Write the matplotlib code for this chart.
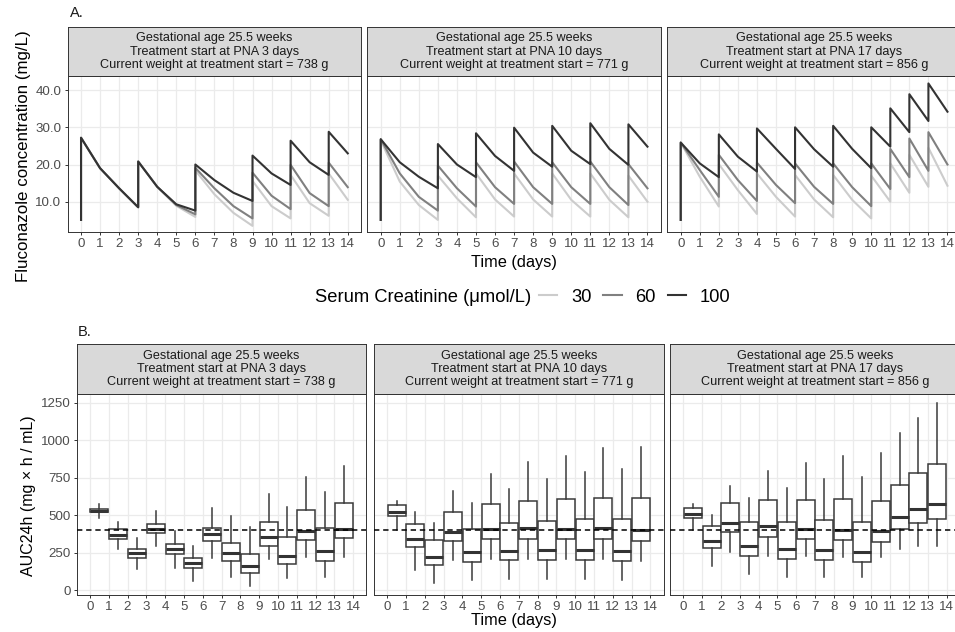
import matplotlib.pyplot as plt
from matplotlib.lines import Line2D

plt.rcParams['font.family'] = ['Liberation Sans', 'DejaVu Sans']

W, H = 955, 632

strip_titles = [
    "Gestational age 25.5 weeks\nTreatment start at PNA 3 days\nCurrent weight at treatment start = 738 g",
    "Gestational age 25.5 weeks\nTreatment start at PNA 10 days\nCurrent weight at treatment start = 771 g",
    "Gestational age 25.5 weeks\nTreatment start at PNA 17 days\nCurrent weight at treatment start = 856 g",
]
creat_levels = ["30", "60", "100"]
line_colors = ["#CCCCCC", "#808080", "#333333"]
days = list(range(15))

# A. fluconazole concentration (mg/L) (doses give two points at one time)
a1_t = [0, 0, 1, 2, 3, 3, 4, 5, 6, 6, 7, 8, 9, 9, 10, 11, 11, 12, 13, 13, 14]
a1_sc30 = [5.1, 27.2, 19.0, 13.6, 8.5, 20.8, 14.0, 8.9, 5.9, 18.4, 12.0, 7.0, 3.5, 15.6, 8.8, 5.5, 17.2, 9.6, 6.2, 17.6, 10.5]
a1_sc60 = [5.1, 27.2, 19.0, 13.6, 8.5, 20.8, 14.0, 9.1, 6.6, 19.1, 13.6, 8.8, 5.5, 17.8, 11.6, 8.0, 19.9, 12.3, 8.8, 20.5, 13.9]
a1_sc100 = [5.1, 27.2, 19.0, 13.6, 8.5, 20.8, 14.0, 9.3, 7.6, 20.0, 15.8, 12.4, 10.2, 22.4, 17.6, 14.5, 26.4, 20.6, 17.2, 28.8, 23.0]

a2_t = [0, 0, 1, 2, 3, 3, 4, 5, 5, 6, 7, 7, 8, 9, 9, 10, 11, 11, 12, 13, 13, 14]
a2_sc30 = [5.1, 26.5, 15.4, 9.1, 5.1, 17.0, 10.9, 5.8, 17.6, 10.6, 6.0, 17.6, 10.6, 6.0, 17.6, 10.5, 6.0, 17.6, 10.5, 5.8, 17.0, 10.0]
a2_sc60 = [5.1, 26.8, 17.6, 11.3, 7.6, 19.7, 13.6, 8.7, 20.6, 13.9, 9.4, 20.8, 13.9, 9.4, 20.6, 13.9, 9.4, 20.8, 13.9, 9.1, 20.1, 13.6]
a2_sc100 = [5.1, 26.8, 20.6, 16.7, 13.6, 25.5, 20.0, 16.6, 28.4, 22.3, 18.3, 29.9, 23.2, 19.4, 30.4, 23.7, 20.1, 31.1, 24.2, 19.9, 30.8, 24.8]

a3_t = [0, 0, 1, 2, 2, 3, 4, 4, 5, 6, 6, 7, 8, 8, 9, 10, 10, 11, 11, 12, 12, 13, 13, 14]
a3_sc30 = [5.1, 25.9, 16.7, 8.7, 20.1, 13.1, 6.7, 17.6, 11.3, 6.0, 17.2, 10.6, 5.8, 17.2, 10.5, 5.5, 17.0, 10.0, 20.3, 12.4, 22.6, 14.0, 24.5, 14.3]
a3_sc60 = [5.1, 25.9, 18.5, 11.3, 22.6, 15.8, 10.2, 20.5, 14.5, 9.6, 20.3, 14.0, 9.4, 20.3, 13.9, 8.8, 20.3, 13.4, 24.2, 16.6, 27.0, 18.3, 28.7, 20.0]
a3_sc100 = [5.1, 25.9, 20.3, 16.6, 28.1, 22.1, 18.1, 29.7, 24.2, 18.8, 30.0, 24.1, 19.4, 30.4, 24.2, 19.0, 30.0, 24.8, 35.1, 28.7, 38.9, 31.7, 41.8, 34.2]

# B. AUC24h per day interval (box stats)
b1_lo = [479, 272, 138, 294, 145, 60, 216, 85, 29, 205, 78, 221, 85, 223]
b1_q1 = [519, 339, 212, 379, 238, 145, 330, 194, 111, 296, 174, 334, 196, 345]
b1_med = [530, 368, 245, 408, 272, 178, 372, 250, 163, 352, 227, 394, 263, 410]
b1_q3 = [539, 405, 272, 441, 305, 212, 417, 316, 241, 452, 352, 535, 417, 579]
b1_hi = [575, 457, 345, 528, 394, 296, 546, 497, 423, 642, 553, 753, 653, 831]

b2_lo = [401, 134, 45, 200, 67, 207, 74, 207, 74, 207, 74, 207, 67, 196]
b2_q1 = [495, 290, 167, 328, 189, 341, 200, 341, 200, 341, 200, 339, 194, 330]
b2_med = [524, 341, 223, 385, 254, 408, 263, 412, 267, 408, 267, 412, 263, 401]
b2_q3 = [568, 439, 334, 519, 405, 575, 446, 597, 463, 608, 475, 617, 472, 613]
b2_hi = [597, 519, 446, 664, 579, 775, 675, 853, 742, 896, 786, 947, 809, 958]

b3_lo = [401, 163, 256, 105, 229, 89, 227, 89, 223, 85, 218, 272, 294, 296]
b3_q1 = [479, 279, 385, 227, 356, 205, 341, 198, 334, 189, 323, 405, 446, 472]
b3_med = [506, 328, 450, 296, 428, 274, 410, 267, 403, 252, 394, 486, 539, 573]
b3_q3 = [546, 428, 579, 452, 602, 457, 602, 468, 608, 457, 597, 702, 780, 840]
b3_hi = [575, 501, 695, 613, 798, 684, 847, 740, 898, 753, 913, 1047, 1147, 1248]

auc_target = 400

conc_panels = [
    (a1_t, [a1_sc30, a1_sc60, a1_sc100]),
    (a2_t, [a2_sc30, a2_sc60, a2_sc100]),
    (a3_t, [a3_sc30, a3_sc60, a3_sc100]),
]
box_panels = [
    (b1_lo, b1_q1, b1_med, b1_q3, b1_hi),
    (b2_lo, b2_q1, b2_med, b2_q3, b2_hi),
    (b3_lo, b3_q1, b3_med, b3_q3, b3_hi),
]

fig = plt.figure(figsize=(W / 100, H / 100), dpi=100)


def px_axes(left, top, width, height):
    return fig.add_axes([left / W, 1 - (top + height) / H, width / W, height / H])


def style_panel(ax):
    ax.set_facecolor('white')
    for s in ax.spines.values():
        s.set_color('#333333')
        s.set_linewidth(0.7)
    ax.grid(True, color='#EBEBEB', linewidth=0.9)
    ax.set_axisbelow(True)
    ax.tick_params(length=2.5, width=0.7, color='#333333', labelcolor='#4D4D4D',
                   labelsize=9.6, pad=2)
    ax.set_xlim(-0.7, 14.7)
    ax.set_xticks(days)


def add_strip(left, top, width, height, title):
    sax = px_axes(left, top, width, height)
    sax.set_facecolor('#D9D9D9')
    sax.set_xticks([])
    sax.set_yticks([])
    for s in sax.spines.values():
        s.set_color('#333333')
        s.set_linewidth(0.7)
    sax.text(0.5, 0.5, title, ha='center', va='center', fontsize=9.1,
             color='#1A1A1A', linespacing=1.12, transform=sax.transAxes)


# ---- panel A ----
a_lefts = [67.7, 367.4, 667.4]
a_w = 293.4
for i, (t, series) in enumerate(conc_panels):
    ax = px_axes(a_lefts[i], 76, a_w, 156)
    style_panel(ax)
    for vals, col in zip(series, line_colors):
        ax.plot(t, vals, color=col, linewidth=1.5, solid_joinstyle='round')
    ax.set_ylim(1.85, 43.8)
    ax.set_yticks([10, 20, 30, 40])
    if i == 0:
        ax.set_yticklabels(["10.0", "20.0", "30.0", "40.0"])
    else:
        ax.tick_params(axis='y', length=0)
        ax.set_yticklabels([])
    add_strip(a_lefts[i], 27, a_w, 49, strip_titles[i])

# ---- panel B ----
b_lefts = [76.8, 374.0, 670.2]
b_w = 289.5
for i, (lo, q1, med, q3, hi) in enumerate(box_panels):
    ax = px_axes(b_lefts[i], 394, b_w, 201)
    style_panel(ax)
    stats = []
    for k in range(14):
        stats.append(dict(whislo=lo[k], q1=q1[k], med=med[k], q3=q3[k], whishi=hi[k]))
    ax.bxp(stats, positions=[k + 0.5 for k in range(14)], widths=0.96,
           showcaps=False, showfliers=False, patch_artist=True,
           boxprops=dict(facecolor='white', edgecolor='#3A3A3A', linewidth=1.1),
           whiskerprops=dict(color='#3A3A3A', linewidth=1.1),
           medianprops=dict(color='#333333', linewidth=2.2), manage_ticks=False)
    ax.axhline(auc_target, color='black', linewidth=1.1, linestyle=(0, (3.5, 2.5)), zorder=5)
    ax.set_ylim(-33, 1310)
    ax.set_yticks([0, 250, 500, 750, 1000, 1250])
    if i != 0:
        ax.tick_params(axis='y', length=0)
        ax.set_yticklabels([])
    add_strip(b_lefts[i], 344, b_w, 50, strip_titles[i])

# ---- labels ----
fig.text(70 / W, 1 - 13 / H, "A.", fontsize=10.5, ha='left', va='center', color='#1A1A1A')
fig.text(78 / W, 1 - 332 / H, "B.", fontsize=10.5, ha='left', va='center', color='#1A1A1A')
fig.text(24 / W, 1 - 156 / H, "Fluconazole concentration (mg/L)", rotation=90,
         ha='center', va='center', fontsize=12.2)
fig.text(28 / W, 1 - 496 / H, "AUC24h (mg × h / mL)", rotation=90,
         ha='center', va='center', fontsize=11.5)
fig.text(514 / W, 1 - 262 / H, "Time (days)", ha='center', va='center', fontsize=11.8)
fig.text(514 / W, 1 - 620 / H, "Time (days)", ha='center', va='center', fontsize=11.8)

# legend
fig.text(531 / W, 1 - 297 / H, "Serum Creatinine (μmol/L)", ha='right', va='center', fontsize=13.2)
handles = [Line2D([0], [0], color=c, linewidth=1.5) for c in line_colors]
fig.legend(handles, creat_levels, loc='center left', bbox_to_anchor=(539 / W, 1 - 297 / H),
           ncol=3, frameon=False, handlelength=1.0, handletextpad=0.75, columnspacing=0.65,
           fontsize=13.2, borderaxespad=0, borderpad=0)

fig.savefig('out.png', dpi=100)
